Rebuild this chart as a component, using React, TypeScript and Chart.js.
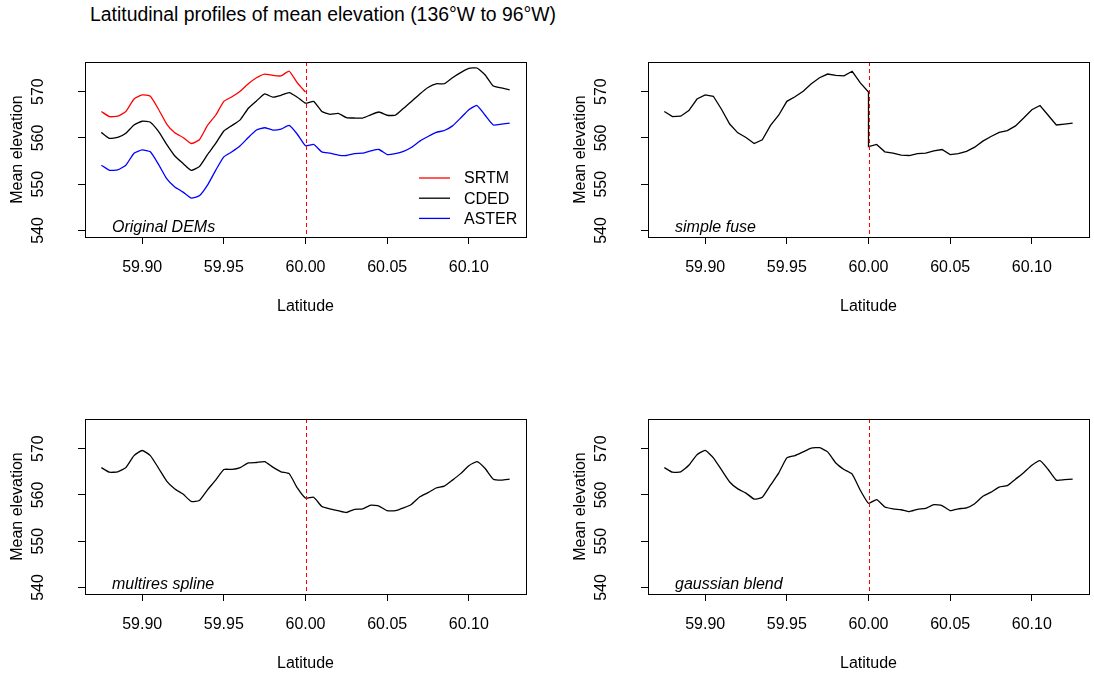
import React, { useEffect, useRef } from 'react';
import { Chart, registerables } from 'chart.js';

Chart.register(...registerables);

const FONT = '"Liberation Sans", Arial, Helvetica, sans-serif';

// Latitude sampling (degrees N)
const latitude = [
  59.875, 59.88, 59.885, 59.89, 59.895, 59.9, 59.905, 59.91, 59.915, 59.92,
  59.925, 59.93, 59.935, 59.94, 59.945, 59.95, 59.955, 59.96, 59.965, 59.97,
  59.975, 59.98, 59.985, 59.99, 59.995, 60.0, 60.005, 60.01, 60.015, 60.02,
  60.025, 60.03, 60.035, 60.04, 60.045, 60.05, 60.055, 60.06, 60.065, 60.07,
  60.075, 60.08, 60.085, 60.09, 60.095, 60.1, 60.105, 60.11, 60.115, 60.12,
  60.125,
];

const boundaryLat = 60.0;

// SRTM only covers south of 60N
const srtm = [
  565.7, 564.6, 564.7, 565.7, 568.4, 569.3, 569.0, 566.2, 563.0, 561.1,
  560.1, 558.8, 559.6, 562.7, 564.9, 567.9, 568.9, 570.1, 571.7, 573.0,
  573.8, 573.5, 573.4, 574.4, 571.9, 569.9,
];

const cded = [
  561.2, 559.9, 560.1, 561.0, 562.8, 563.6, 563.4, 561.4, 558.6, 556.1,
  554.5, 553.0, 553.8, 556.4, 558.8, 561.5, 562.7, 563.9, 566.4, 568.0,
  569.5, 568.8, 569.2, 569.8, 568.8, 567.5, 567.9, 565.7, 565.1, 565.3,
  564.4, 564.3, 564.3, 565.0, 565.6, 564.9, 564.9, 566.4, 567.9, 569.5,
  570.9, 571.7, 571.7, 573.0, 574.1, 575.0, 575.1, 573.6, 571.2, 570.8,
  570.4,
];

const aster = [
  554.1, 553.0, 553.1, 554.1, 556.7, 557.4, 557.0, 554.3, 551.2, 549.4,
  548.3, 547.0, 547.5, 549.8, 553.0, 555.9, 557.0, 558.3, 560.1, 561.7,
  562.2, 561.7, 561.9, 562.7, 560.8, 558.3, 558.6, 557.0, 556.7, 556.3,
  556.2, 556.6, 556.7, 557.2, 557.5, 556.4, 556.6, 557.1, 558.0, 559.3,
  560.3, 561.2, 561.6, 562.6, 564.3, 566.1, 567.0, 564.9, 562.8, 563.0,
  563.2,
];

// simple fuse: two values at 60.00 (south and north side of the seam)
const simpleFuse = [
  565.7, 564.6, 564.7, 565.9, 568.4, 569.3, 569.0, 566.2, 563.0, 561.1,
  560.1, 558.8, 559.6, 562.7, 564.9, 567.9, 568.9, 570.1, 571.7, 573.0,
  573.8, 573.5, 573.4, 574.4, 571.9, 569.9, 558.1, 558.6, 557.0, 556.7,
  556.3, 556.2, 556.6, 556.7, 557.2, 557.5, 556.4, 556.6, 557.1, 558.0,
  559.3, 560.3, 561.2, 561.6, 562.6, 564.3, 566.1, 567.0, 564.9, 562.8,
  563.0, 563.2,
];

const multiresSpline = [
  565.9, 564.9, 565.0, 565.9, 568.5, 569.6, 568.5, 565.8, 563.0, 561.3,
  560.2, 558.6, 558.8, 561.1, 563.2, 565.5, 565.5, 565.9, 566.9, 567.0,
  567.2, 566.0, 565.0, 564.6, 561.5, 559.3, 559.5, 557.5, 557.0, 556.6,
  556.2, 556.9, 557.0, 557.8, 557.6, 556.6, 556.6, 557.2, 558.0, 559.6,
  560.5, 561.5, 561.9, 563.2, 564.6, 566.3, 567.2, 565.7, 563.4, 563.2,
  563.4,
];

const gaussianBlend = [
  565.9, 564.9, 565.0, 566.4, 568.7, 569.6, 568.0, 565.4, 562.8, 561.3,
  560.4, 559.1, 559.5, 562.1, 564.7, 568.0, 568.5, 569.3, 570.1, 570.2,
  569.3, 566.9, 565.5, 564.5, 561.0, 558.2, 559.0, 557.4, 557.0, 556.8,
  556.4, 556.9, 557.1, 557.9, 557.7, 556.6, 557.0, 557.2, 558.1, 559.7,
  560.6, 561.7, 562.0, 563.4, 564.8, 566.4, 567.4, 565.5, 563.2, 563.3,
  563.4,
];

const xTickStep = 0.05;
const yTickStep = 5;
const xLimits = [59.865, 60.135];
const yLimits = [538.6, 576.4];

const fuseLatitude = [...latitude.slice(0, 26), ...latitude.slice(25)];

const toPoints = (xs: number[], ys: number[]) => ys.map((y, i) => ({ x: xs[i], y }));

const lineDs = (label: string, xs: number[], ys: number[], color: string, tension = 0.15) => ({
  label,
  data: toPoints(xs, ys),
  borderColor: color,
  backgroundColor: color,
  borderWidth: 1.3,
  pointRadius: 0,
  pointHoverRadius: 0,
  fill: false,
  tension,
});

const panelDecor = {
  id: 'panelDecor',
  afterDatasetsDraw(chart: any, _args: any, opts: any) {
    const { ctx, chartArea: a, scales } = chart;
    const x = scales.x;
    ctx.save();
    // seam line
    const px = Math.round(x.getPixelForValue(boundaryLat)) + 0.5;
    ctx.strokeStyle = '#FF0000';
    ctx.lineWidth = 1;
    ctx.setLineDash([4, 3]);
    ctx.beginPath();
    ctx.moveTo(px, a.top);
    ctx.lineTo(px, a.bottom);
    ctx.stroke();
    ctx.setLineDash([]);
    // box
    ctx.strokeStyle = '#000';
    ctx.lineWidth = 1;
    ctx.strokeRect(Math.round(a.left) + 0.5, Math.round(a.top) + 0.5, Math.round(a.right - a.left), Math.round(a.bottom - a.top));
    // panel label
    ctx.fillStyle = '#000';
    ctx.font = `italic 16px ${FONT}`;
    ctx.textAlign = 'left';
    ctx.textBaseline = 'alphabetic';
    ctx.fillText(opts.label, a.left + 27, a.bottom - 5);
    // legend
    if (opts.legend) {
      ctx.font = `16px ${FONT}`;
      ctx.textBaseline = 'middle';
      chart.data.datasets.forEach((ds: any, i: number) => {
        const y = a.bottom - 59 + i * 20.2;
        ctx.strokeStyle = ds.borderColor;
        ctx.lineWidth = 1.3;
        ctx.beginPath();
        ctx.moveTo(a.left + 334, y);
        ctx.lineTo(a.left + 365, y);
        ctx.stroke();
        ctx.fillStyle = '#000';
        ctx.fillText(ds.label, a.left + 379, y + 1);
      });
    }
    ctx.restore();
  },
};

const CH = 285;
const Y_AXIS_W = 85;
const PLOT_W = 441;

function Panel(props: { left: number; top: number; width: number; datasets: any[]; label: string; legend?: boolean }) {
  const ref = useRef<HTMLCanvasElement>(null);
  useEffect(() => {
    const gridOpts = {
      display: true,
      drawOnChartArea: false,
      drawTicks: true,
      tickLength: 7,
      color: '#000',
      lineWidth: 1,
    };
    const chart = new Chart(ref.current as HTMLCanvasElement, {
      type: 'line',
      data: { datasets: props.datasets },
      options: {
        animation: false,
        responsive: false,
        devicePixelRatio: 1,
        events: [],
        layout: { padding: { top: 22, right: props.width - Y_AXIS_W - PLOT_W, left: 0, bottom: 0 } },
        plugins: {
          legend: { display: false },
          tooltip: { enabled: false },
          panelDecor: { label: props.label, legend: !!props.legend },
        } as any,
        scales: {
          x: {
            type: 'linear',
            min: xLimits[0],
            max: xLimits[1],
            afterFit: (s: any) => {
              s.height = 88;
              s.paddingLeft = 0;
              s.paddingRight = 0;
            },
            ticks: {
              stepSize: xTickStep,
              includeBounds: false,
              autoSkip: false,
              minRotation: 0,
              maxRotation: 0,
              padding: 14,
              color: '#000',
              font: { family: FONT, size: 16 },
              callback: (v: any) => Number(v).toFixed(2),
            },
            grid: gridOpts,
            border: { display: false },
            title: {
              display: true,
              text: 'Latitude',
              color: '#000',
              font: { family: FONT, size: 16 },
              padding: { top: 0, bottom: 9 },
            },
          },
          y: {
            type: 'linear',
            min: yLimits[0],
            max: yLimits[1],
            afterFit: (s: any) => {
              s.width = Y_AXIS_W;
              s.paddingTop = 0;
              s.paddingBottom = 0;
            },
            ticks: {
              stepSize: yTickStep,
              includeBounds: false,
              minRotation: 90,
              maxRotation: 90,
              crossAlign: 'center',
              padding: 26,
              color: '#000',
              font: { family: FONT, size: 16 },
              callback: (v: any) => (Number(v) % 10 === 0 ? String(v) : ''),
            },
            grid: gridOpts,
            border: { display: false },
            title: {
              display: true,
              text: 'Mean elevation',
              color: '#000',
              font: { family: FONT, size: 16 },
              padding: { top: 8, bottom: 0 },
            },
          },
        } as any,
      },
      plugins: [panelDecor as any],
    });
    return () => chart.destroy();
  }, []);
  return (
    <canvas
      ref={ref}
      width={props.width}
      height={CH}
      style={{ position: 'absolute', left: props.left, top: props.top, width: props.width, height: CH }}
    />
  );
}

export default function App() {
  const originalDems = [
    lineDs('SRTM', latitude, srtm, '#FF0000'),
    lineDs('CDED', latitude, cded, '#000000'),
    lineDs('ASTER', latitude, aster, '#0000FF'),
  ];
  const fuse = [lineDs('simple fuse', fuseLatitude, simpleFuse, '#000000', 0)];
  const spline = [lineDs('multires spline', latitude, multiresSpline, '#000000')];
  const blend = [lineDs('gaussian blend', latitude, gaussianBlend, '#000000')];
  return (
    <div
      style={{
        position: 'fixed',
        left: 0,
        top: 0,
        width: 1094,
        height: 679,
        overflow: 'hidden',
        background: '#fff',
      }}
    >
      <div
        style={{
          position: 'absolute',
          left: 90,
          top: 5,
          fontFamily: FONT,
          fontSize: 19.4,
          lineHeight: 1,
          color: '#000',
          whiteSpace: 'nowrap',
        }}
      >
        Latitudinal profiles of mean elevation (136°W to 96°W)
      </div>
      <Panel left={0} top={40} width={547} datasets={originalDems} label="Original DEMs" legend />
      <Panel left={563} top={40} width={531} datasets={fuse} label="simple fuse" />
      <Panel left={0} top={397} width={547} datasets={spline} label="multires spline" />
      <Panel left={563} top={397} width={531} datasets={blend} label="gaussian blend" />
    </div>
  );
}
